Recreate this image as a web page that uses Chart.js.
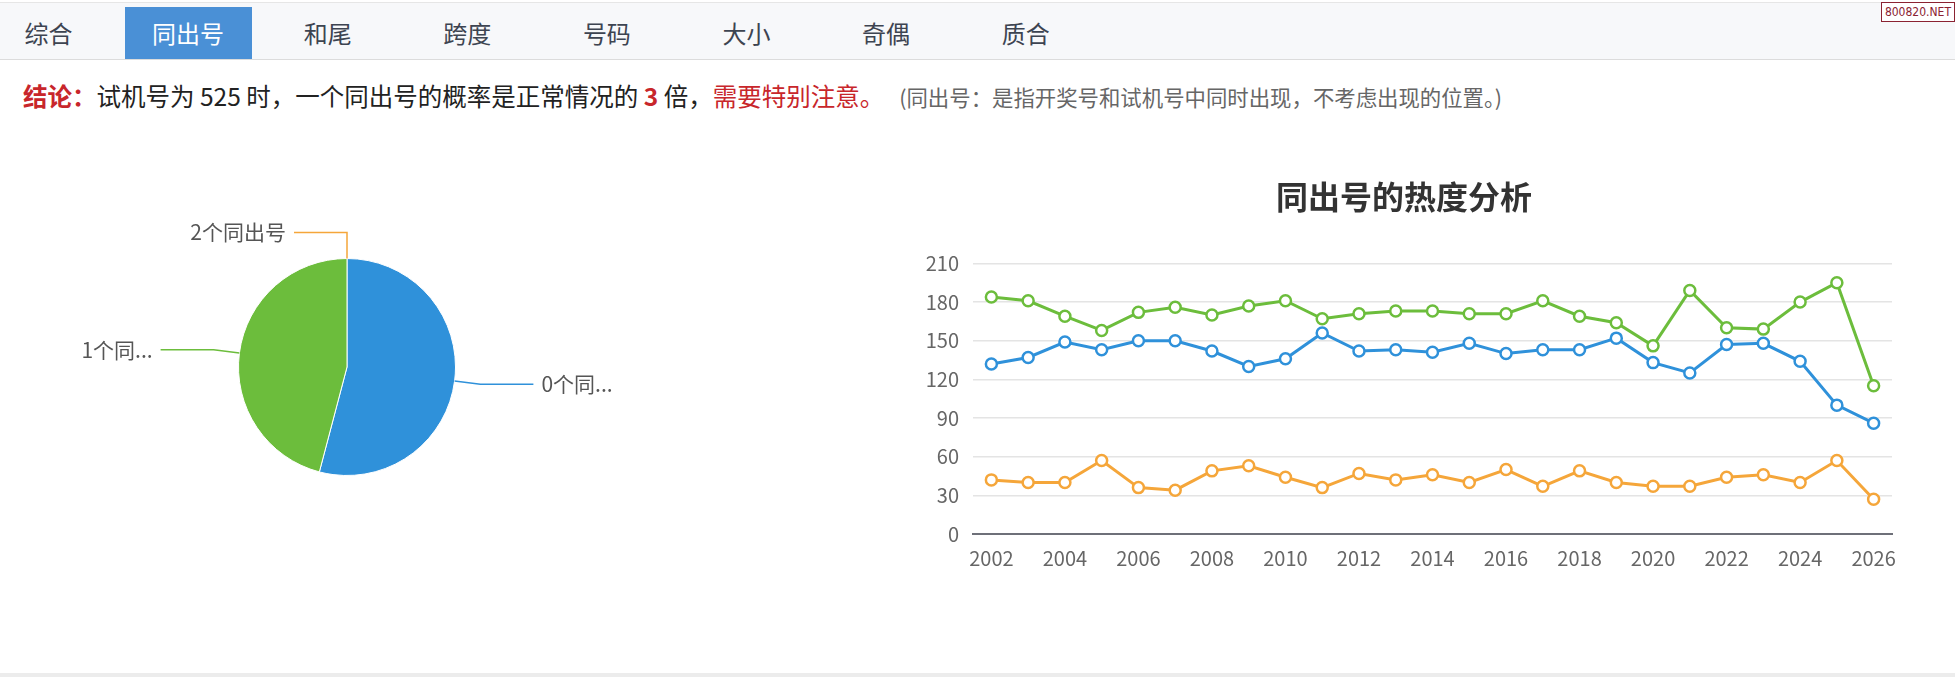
<!DOCTYPE html>
<html lang="zh-CN">
<head>
<meta charset="utf-8">
<title>同出号</title>
<script src="https://cdn.jsdelivr.net/npm/chart.js@4/dist/chart.umd.min.js"></script>
<style>
  html, body { margin: 0; padding: 0; background: #fff; }
  body {
    width: 1955px; height: 677px; position: relative; overflow: hidden;
    font-family: "Noto Sans CJK SC", "Noto Sans", sans-serif;
  }
  .tabs {
    position: absolute; left: 0; top: 2px; width: 1955px; height: 56px;
    background: #f7f8fa; border-top: 1px solid #e6e6e6; border-bottom: 1px solid #dcdcdc;
    display: flex;
  }
  .tabs .tab {
    margin-top: 4px; width: 127px; height: 52px; line-height: 52px; flex: none;
    text-align: center; font-size: 24px; color: #3d4451; margin-right: 12.6px;
  }
  .tabs .tab:first-child { margin-left: -15px; }
  .tabs .tab.on { background: #4a90d6; color: #fff; }
  .badge {
    position: absolute; right: 0; top: 2px; height: 18px; line-height: 18px;
    padding: 0 3px; border: 1px solid #8b2332; color: #8b2332; background: #fff;
    font-family: "DejaVu Sans Condensed", "Liberation Sans Narrow", sans-serif; font-size: 12px;
  }
  .note {
    position: absolute; left: 23px; top: 80px; line-height: 32px;
    font-size: 24.5px; color: #222; white-space: nowrap;
  }
  .note .red { color: #c8262b; }
  .note b { font-weight: bold; }
  .note .hint { color: #666; font-size: 21.4px; margin-left: 15px; }
  #pieChart { position: absolute; left: 0; top: 140px; }
  #lineChart { position: absolute; left: 900px; top: 150px; }
  .foot { position: absolute; left: 0; top: 673px; width: 1955px; height: 4px; background: #ececec; }
</style>
</head>
<body>
<div class="tabs">
  <div class="tab">综合</div>
  <div class="tab on">同出号</div>
  <div class="tab">和尾</div>
  <div class="tab">跨度</div>
  <div class="tab">号码</div>
  <div class="tab">大小</div>
  <div class="tab">奇偶</div>
  <div class="tab">质合</div>
</div>
<div class="badge">800820.NET</div>
<div class="note"><b class="red">结论：</b>试机号为 525 时，一个同出号的概率是正常情况的 <b class="red">3</b> 倍，<span class="red">需要特别注意。</span><span class="hint">(同出号：是指开奖号和试机号中同时出现，不考虑出现的位置。)</span></div>
<canvas id="pieChart" width="700" height="360"></canvas>
<canvas id="lineChart" width="1000" height="440"></canvas>
<div class="foot"></div>

<script>
// pie data
const pieLabels = ['0个同出号', '1个同出号', '2个同出号'];
const pieValues = [54.1, 45.9, 0];
const pieColors = ['#2f91da', '#6cbd3c', '#f5a63a'];

// line data
const years = ['2002', '2003', '2004', '2005', '2006', '2007', '2008', '2009', '2010', '2011', '2012', '2013',
  '2014', '2015', '2016', '2017', '2018', '2019', '2020', '2021', '2022', '2023', '2024', '2025', '2026'];
const zeroSame = [184, 181, 169, 158, 172, 176, 170, 177, 181, 167, 171, 173, 173, 171, 171, 181, 169, 164, 146, 189, 160, 159, 180, 195, 115];
const oneSame = [132, 137, 149, 143, 150, 150, 142, 130, 136, 156, 142, 143, 141, 148, 140, 143, 143, 152, 133, 125, 147, 148, 134, 100, 86];
const twoSame = [42, 40, 40, 57, 36, 34, 49, 53, 44, 36, 47, 42, 46, 40, 50, 37, 49, 40, 37, 37, 44, 46, 40, 57, 27];
const yTicks = [0, 30, 60, 90, 120, 150, 180, 210];

Chart.defaults.font.family = '"Noto Sans CJK SC", "Noto Sans", sans-serif';

// shorten a label with "..." when it is wider than maxW
function fitText(ctx, text, maxW) {
  if (ctx.measureText(text).width <= maxW) return text;
  let s = text;
  while (s.length > 1 && ctx.measureText(s + '...').width > maxW) s = s.slice(0, -1);
  return s + '...';
}

// outside labels with leader lines, placed from the arc elements
const pieLabelPlugin = {
  id: 'pieLabels',
  afterDatasetsDraw(chart) {
    const ctx = chart.ctx;
    const meta = chart.getDatasetMeta(0);
    ctx.save();
    ctx.font = '21px "Noto Sans CJK SC", sans-serif';
    ctx.textBaseline = 'middle';
    meta.data.forEach((arc, i) => {
      const p = arc.getProps(['x', 'y', 'startAngle', 'endAngle', 'outerRadius'], true);
      const mid = (p.startAngle + p.endAngle) / 2;
      const cos = Math.cos(mid), sin = Math.sin(mid);
      const x0 = p.x + cos * p.outerRadius, y0 = p.y + sin * p.outerRadius;
      const x1 = p.x + cos * (p.outerRadius + 26), y1 = p.y + sin * (p.outerRadius + 26);
      const dir = cos < 0 ? -1 : 1;
      const x2 = x1 + dir * 53;
      ctx.strokeStyle = pieColors[i];
      ctx.lineWidth = 1.5;
      ctx.beginPath();
      ctx.moveTo(x0, y0);
      ctx.lineTo(x1, y1);
      ctx.lineTo(x2, y1);
      ctx.stroke();
      let text = pieLabels[i];
      if (Math.abs(sin) < 0.9) text = fitText(ctx, text, 78);
      ctx.fillStyle = '#555';
      ctx.textAlign = dir < 0 ? 'right' : 'left';
      ctx.fillText(text, x2 + dir * 8, y1);
    });
    ctx.restore();
  }
};

new Chart(document.getElementById('pieChart'), {
  type: 'pie',
  data: {
    labels: pieLabels,
    datasets: [{
      data: pieValues,
      backgroundColor: pieColors,
      borderColor: '#fff',
      borderWidth: 1
    }]
  },
  options: {
    responsive: false,
    animation: false,
    layout: { padding: { left: 238, right: 244, top: 118, bottom: 24 } },
    plugins: { legend: { display: false }, tooltip: { enabled: false } }
  },
  plugins: [pieLabelPlugin]
});

const lineStyle = (color) => ({
  borderColor: color,
  backgroundColor: color,
  borderWidth: 3,
  pointRadius: 5.5,
  pointBorderWidth: 2.5,
  pointBackgroundColor: '#fff',
  pointBorderColor: color,
  tension: 0
});

new Chart(document.getElementById('lineChart'), {
  type: 'line',
  data: {
    labels: years,
    datasets: [
      { label: '0个同出号', data: zeroSame, ...lineStyle('#6cbd3c') },
      { label: '1个同出号', data: oneSame, ...lineStyle('#2f91da') },
      { label: '2个同出号', data: twoSame, ...lineStyle('#f5a63a') }
    ]
  },
  options: {
    responsive: false,
    animation: false,
    layout: { padding: { left: 16, right: 8, top: 0, bottom: 0 } },
    plugins: {
      legend: { display: false },
      tooltip: { enabled: false },
      title: {
        display: true,
        text: '同出号的热度分析',
        color: '#333',
        font: { size: 32, weight: 'bold' },
        padding: { top: 28, bottom: 47 }
      }
    },
    scales: {
      x: {
        offset: true,
        grid: { display: false, drawTicks: false },
        border: { display: true, color: '#6e7079', width: 2 },
        ticks: {
          autoSkip: false,
          maxRotation: 0,
          padding: 12,
          color: '#666',
          font: { size: 20 },
          callback(v, i) { return i % 2 === 0 ? this.getLabelForValue(v) : ''; }
        },
        afterFit(s) { s.height = 56; s.paddingLeft = 0; s.paddingRight = 0; }
      },
      y: {
        min: 0,
        max: 210,
        afterBuildTicks(s) { s.ticks = yTicks.map(v => ({ value: v })); },
        grid: { color: '#e4e4e4', lineWidth: 1.5, drawTicks: false },
        border: { display: false },
        ticks: { padding: 14, color: '#666', font: { size: 20 } },
        afterFit(s) { s.width = 57; }
      }
    }
  }
});
</script>
</body>
</html>
